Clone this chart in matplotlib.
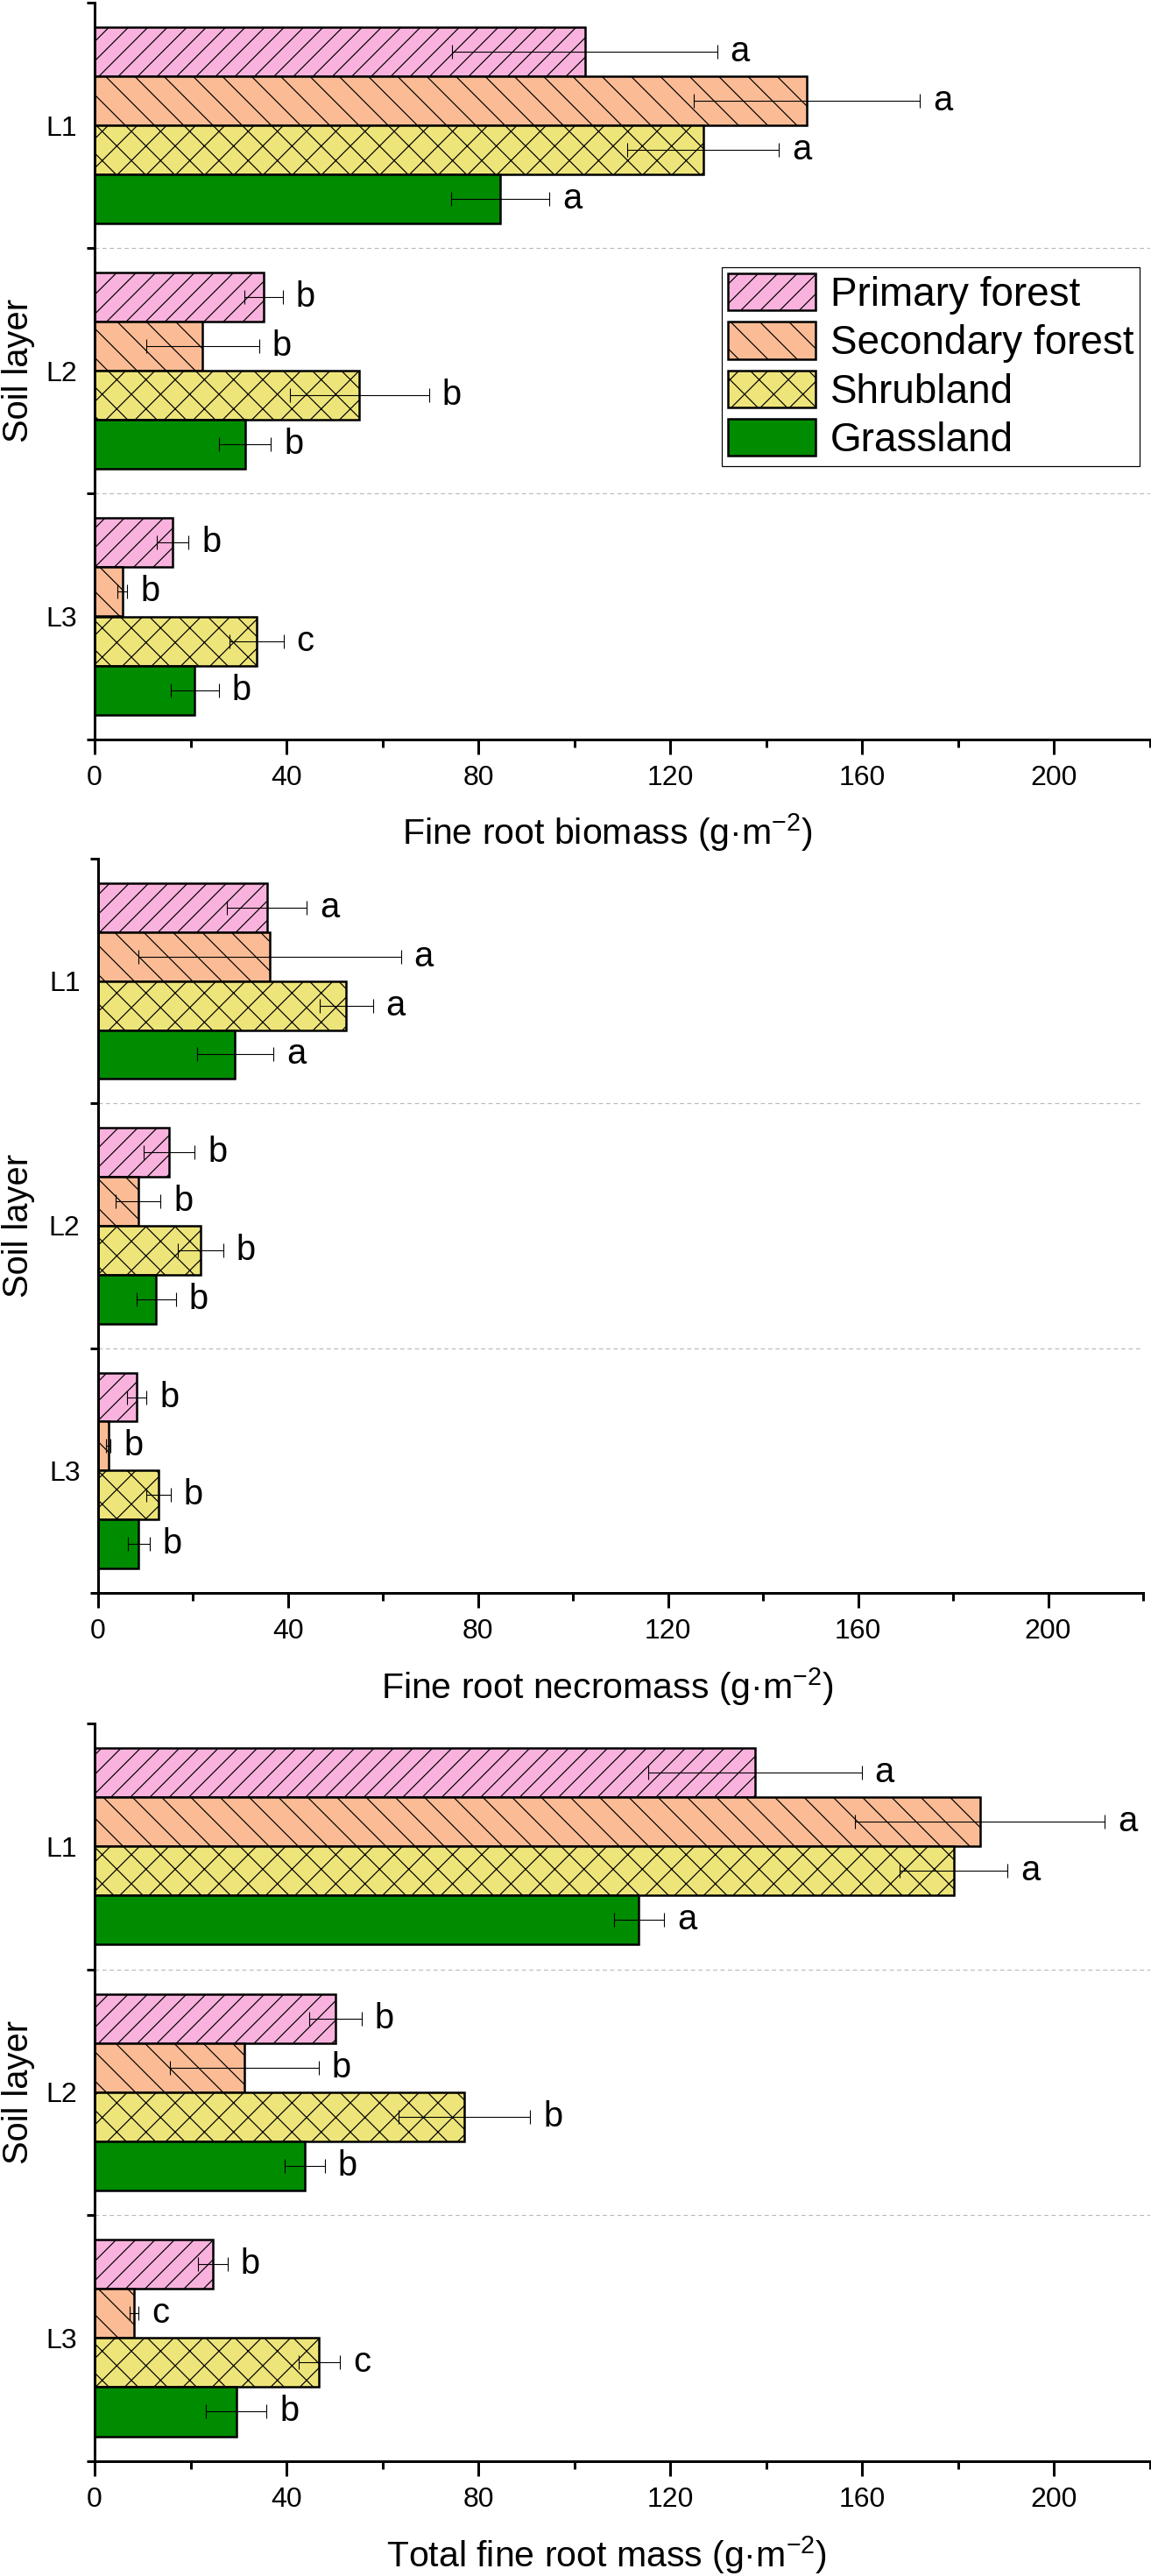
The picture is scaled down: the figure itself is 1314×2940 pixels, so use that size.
import numpy as np
import matplotlib
matplotlib.use("Agg")
import matplotlib.pyplot as plt

# Figure is built at a high dpi so that the hatch spacing matches the original
DPI = 400


def px(v):
    # convert pixels of the final image to points
    return v * 72.0 / DPI


plt.rcParams['font.family'] = ['Liberation Sans', 'DejaVu Sans']
plt.rcParams['mathtext.fontset'] = 'custom'
plt.rcParams['mathtext.rm'] = 'Liberation Sans'
plt.rcParams['mathtext.default'] = 'regular'
plt.rcParams['hatch.linewidth'] = px(1.2)

# Data
layers = ['L1', 'L2', 'L3']
stands = ['Primary forest', 'Secondary forest', 'Shrubland', 'Grassland']

# rows: stands, columns: layers
biomass_mean = [[102.2, 35.2, 16.3],
                [148.5, 22.5, 5.8],
                [126.9, 55.2, 33.8],
                [84.6, 31.4, 20.9]]
biomass_err = [[27.6, 4.0, 3.3],
               [23.5, 11.8, 1.0],
               [15.8, 14.5, 5.6],
               [10.2, 5.4, 5.0]]
biomass_letters = [['a', 'b', 'b'],
                   ['a', 'b', 'b'],
                   ['a', 'b', 'c'],
                   ['a', 'b', 'b']]

necromass_mean = [[35.6, 15.0, 8.2],
                  [36.2, 8.5, 2.2],
                  [52.3, 21.6, 12.8],
                  [28.9, 12.3, 8.6]]
necromass_err = [[8.4, 5.4, 2.1],
                 [27.6, 4.7, 0.5],
                 [5.6, 4.8, 2.5],
                 [8.0, 4.1, 2.3]]
necromass_letters = [['a', 'b', 'b'],
                     ['a', 'b', 'b'],
                     ['a', 'b', 'b'],
                     ['a', 'b', 'b']]

total_mean = [[137.7, 50.2, 24.6],
              [184.6, 31.2, 8.2],
              [179.1, 77.1, 46.8],
              [113.5, 43.8, 29.5]]
total_err = [[22.2, 5.5, 3.1],
             [26.0, 15.5, 0.9],
             [11.2, 13.7, 4.3],
             [5.2, 4.2, 6.3]]
total_letters = [['a', 'b', 'b'],
                 ['a', 'b', 'c'],
                 ['a', 'b', 'c'],
                 ['a', 'b', 'b']]

colors = ['#F9B2DD', '#FBBC95', '#EEE57A', '#008C00']
# hatch density: more repeats -> tighter lines
hatches = ['//////', '\\\\\\\\', 'xxxx', None]
offsets = [-0.3, -0.1, 0.1, 0.3]

W, H = 1314, 2940
fig = plt.figure(figsize=(W / DPI, H / DPI), dpi=DPI)


def add_axes(left, right, top, bottom):
    return fig.add_axes([left / W, 1 - bottom / H, (right - left) / W, (bottom - top) / H])


def draw_panel(ax, means, errs, letters, xlabel, box, legend=False):
    left, right, top, bottom = box
    pos = np.arange(len(layers))
    for i, stand in enumerate(stands):
        ys = pos + offsets[i]
        ax.barh(ys, means[i], height=0.2, color=colors[i], edgecolor='black',
                linewidth=px(2.5), hatch=hatches[i], label=stand, zorder=2)
        ax.errorbar(means[i], ys, xerr=errs[i], fmt='none', ecolor='black',
                    elinewidth=px(1.1), capsize=px(8), capthick=px(1.1), zorder=3)
        for x, y, e, t in zip(means[i], ys, errs[i], letters[i]):
            ax.annotate(t, (x + e, y), xytext=(px(15), 0), textcoords='offset points',
                        ha='left', va='center', fontsize=px(40))

    for b in [0.5, 1.5]:
        ax.axhline(b, color='#BBBBBB', lw=px(1.2), ls=(0, (4, 3)), zorder=1)

    ax.set_xlim(0, 220)
    ax.set_ylim(2.5, -0.5)
    ax.set_xticks(range(0, 201, 40))
    ax.set_xticks(range(20, 221, 40), minor=True)
    ax.set_yticks([-0.5, 0.5, 1.5, 2.5])
    ax.set_yticklabels([])
    ax.set_yticks(pos, minor=True)
    ax.set_yticklabels(layers, minor=True)
    ax.tick_params(axis='x', which='major', length=px(17), width=px(3),
                   labelsize=px(32), pad=px(12))
    ax.tick_params(axis='x', which='minor', length=px(9), width=px(3))
    ax.tick_params(axis='y', which='major', length=px(9), width=px(3))
    ax.tick_params(axis='y', which='minor', length=0, labelsize=px(32), pad=px(20))
    for s in ['top', 'right']:
        ax.spines[s].set_visible(False)
    for s in ['left', 'bottom']:
        ax.spines[s].set_linewidth(px(3))

    width = right - left
    height = bottom - top
    ax.set_xlabel(xlabel, fontsize=px(41))
    ax.xaxis.set_label_coords((693 - left) / width, -107 / height)
    ax.xaxis.label.set_va('center')
    ax.set_ylabel('Soil layer', fontsize=px(40))
    ax.yaxis.set_label_coords((21 - left) / width, 0.5)
    ax.yaxis.label.set_va('center')

    if legend:
        leg = ax.legend(loc='upper left', bbox_to_anchor=((824 - left) / width, (bottom - 305) / height),
                        borderaxespad=0, fontsize=px(46), handlelength=2.17, handleheight=1.04,
                        handletextpad=0.37, labelspacing=0.185, borderpad=0.15,
                        fancybox=False, edgecolor='black', framealpha=1)
        leg.get_frame().set_linewidth(px(1.2))


box1 = (108, 1312.6, 3, 843.6)
box2 = (111.6, 1305, 980, 1818)
box3 = (108, 1312.6, 1967, 2808.6)

ax1 = add_axes(*box1)
draw_panel(ax1, biomass_mean, biomass_err, biomass_letters,
           'Fine root biomass (g·m$^{-2}$)', box1, legend=True)
ax2 = add_axes(*box2)
draw_panel(ax2, necromass_mean, necromass_err, necromass_letters,
           'Fine root necromass (g·m$^{-2}$)', box2)
ax3 = add_axes(*box3)
draw_panel(ax3, total_mean, total_err, total_letters,
           'Total fine root mass (g·m$^{-2}$)', box3)

fig.savefig('out.png', dpi=DPI)
